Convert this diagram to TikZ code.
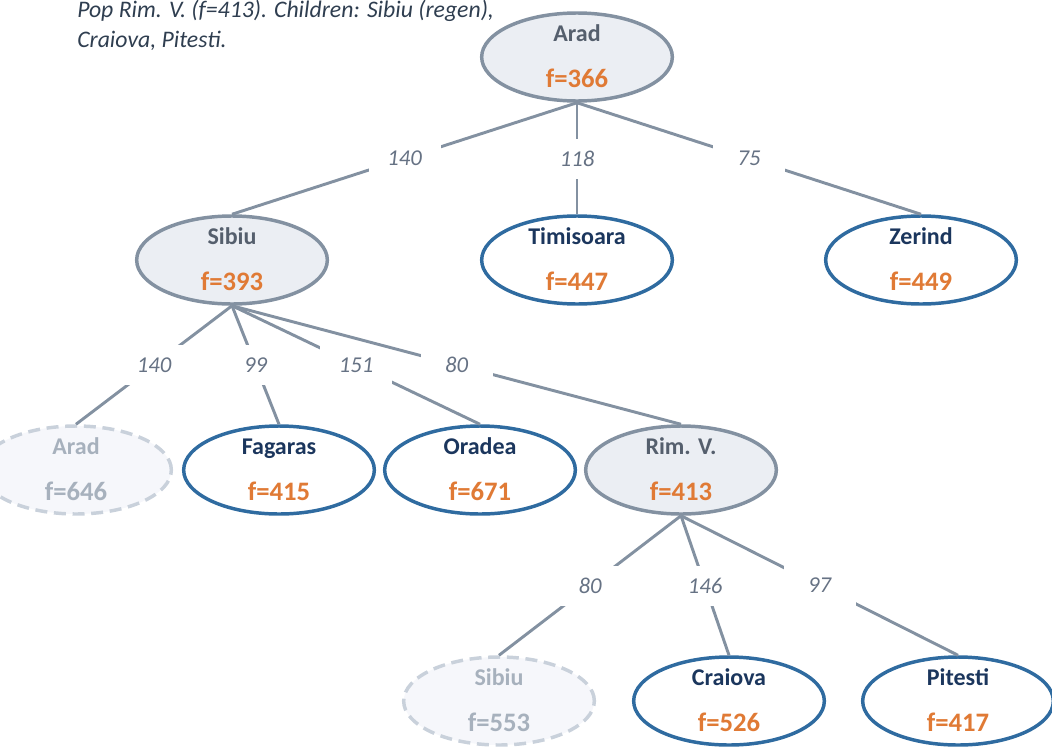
\documentclass[tikz,border=0pt]{standalone}
\usepackage{fontspec}
\setmainfont{Carlito}
\usetikzlibrary{shapes.geometric}

% palette
\definecolor{edgegray}{HTML}{8391A1}
\definecolor{expfill}{HTML}{EBEEF3}
\definecolor{expname}{HTML}{555F6D}
\definecolor{frontblue}{HTML}{2F6BA0}
\definecolor{frontname}{HTML}{1B365D}
\definecolor{fvalue}{HTML}{E07A35}
\definecolor{repborder}{HTML}{C9D1DB}
\definecolor{repfill}{HTML}{F6F7FB}
\definecolor{reptext}{HTML}{A7B1BD}
\definecolor{labeltext}{HTML}{667284}
\definecolor{notetext}{HTML}{2F3E50}

\tikzset{
  treenode/.style={ellipse, minimum width=143pt, minimum height=66pt, inner sep=0pt, line width=2.6pt},
  expanded/.style={treenode, draw=edgegray, fill=expfill},
  frontier/.style={treenode, draw=frontblue, fill=white},
  repeated/.style={treenode, draw=repborder, fill=repfill, dash pattern=on 9pt off 5pt},
  cityname/.style={anchor=base, inner sep=0pt, font=\fontsize{18}{20}\selectfont\bfseries},
  fcost/.style={anchor=base, inner sep=0pt, font=\fontsize{20}{22}\selectfont\bfseries},
  expanded name/.style={cityname, text=expname},
  frontier name/.style={cityname, text=frontname},
  repeated name/.style={cityname, text=reptext},
  expanded f/.style={fcost, text=fvalue},
  frontier f/.style={fcost, text=fvalue},
  repeated f/.style={fcost, text=reptext},
  edge/.style={draw=edgegray, line width=2.2pt},
  elabel/.style={fill=white, inner sep=0pt, minimum width=54pt, minimum height=30pt,
                 text=labeltext, font=\fontsize{17}{19}\selectfont\itshape},
  note/.style={anchor=base west, inner sep=0pt, text=notetext,
               font=\fontsize{17.8}{20}\selectfont\itshape},
}

% #1 kind, #2 node name, #3 x, #4 y, #5 city, #6 f-value
\newcommand\searchnode[6]{%
  \node[#1] (#2) at (#3,#4) {};
  \node[#1 name] (#2-city) at ([yshift=12pt]#2.center) {#5};
  \node[#1 f] (#2-f) at ([yshift=-22.5pt]#2.center) {f=#6};
}

\begin{document}
\begin{tikzpicture}[x=0.75pt, y=-0.75pt]
  \useasboundingbox (0,0) rectangle (1052,750);

  % search tree nodes
  \searchnode{expanded}{arad}{577}{57}{Arad}{366}
  \searchnode{expanded}{sibiu}{232}{260}{Sibiu}{393}
  \searchnode{frontier}{timisoara}{577}{260}{Timisoara}{447}
  \searchnode{frontier}{zerind}{921}{260}{Zerind}{449}
  \searchnode{repeated}{aradB}{76}{470}{Arad}{646}
  \searchnode{frontier}{fagaras}{279}{470}{Fagaras}{415}
  \searchnode{frontier}{oradea}{480}{470}{Oradea}{671}
  \searchnode{expanded}{rimv}{681}{470}{Rim. V.}{413}
  \searchnode{repeated}{sibiuB}{499}{701}{Sibiu}{553}
  \searchnode{frontier}{craiova}{729}{701}{Craiova}{526}
  \searchnode{frontier}{pitesti}{958}{701}{Pitesti}{417}

  % tree edges with step costs
  \draw[edge] (arad.south) -- node[elabel] {140} (sibiu.north);
  \draw[edge] (arad.south) -- node[elabel] {118} (timisoara.north);
  \draw[edge] (arad.south) -- node[elabel] {75} (zerind.north);

  \draw[edge] (sibiu.south) -- node[elabel] {140} (aradB.north);
  \draw[edge] (sibiu.south) -- node[elabel] {99} (fagaras.north);
  \draw[edge] (sibiu.south) -- node[elabel] {151} (oradea.north);
  \draw[edge] (sibiu.south) -- node[elabel] {80} (rimv.north);

  \draw[edge] (rimv.south) -- node[elabel] {80} (sibiuB.north);
  \draw[edge] (rimv.south) -- node[elabel] {146} (craiova.north);
  \draw[edge] (rimv.south) -- node[elabel] {97} (pitesti.north);

  % step note
  \node[note] (note1) at (77,17) {Pop Rim. V. (f=413). Children: Sibiu (regen),};
  \node[note] (note2) at (77,47) {Craiova, Pitesti.};
\end{tikzpicture}
\end{document}
